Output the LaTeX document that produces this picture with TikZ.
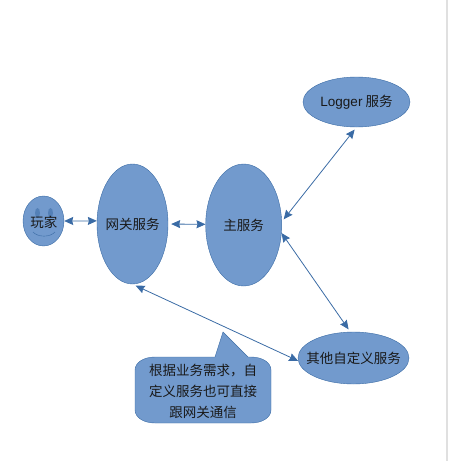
\documentclass[tikz,border=0pt]{standalone}
\usepackage{fontspec}
\setmainfont{Liberation Sans}
\newfontfamily\cjk{Noto Sans CJK SC}
\usetikzlibrary{shapes.geometric,arrows.meta}
\definecolor{svcfill}{HTML}{729ACD}
\definecolor{svcline}{HTML}{3A6BA5}
\tikzset{
    service/.style={ellipse, draw=svcline, fill=svcfill, inner sep=0pt},
    caption/.style={font=\fontsize{13.5}{21}\selectfont\cjk, text=black!90, align=center},
    link/.style={draw=svcline, line width=0.8pt, <->, >={Stealth[length=9pt,width=8pt,inset=1pt]}},
}
\begin{document}
\begin{tikzpicture}[x=1pt,y=-1pt]
    \useasboundingbox (0,0) rectangle (448,461);
    \fill[black!12] (446,0) rectangle (448,461);
    \node[service, minimum width=41pt, minimum height=50pt] (player) at (43.5,221) {};
    % face under the label
    \fill[svcline!55!svcfill] (37.5,213) ellipse (2.5 and 5);
    \fill[svcline!55!svcfill] (50.5,213) ellipse (2.5 and 5);
    \draw[svcline] (33,232) .. controls (38,237.5) and (50,237.5) .. (55,232);
    \node[caption] (playertext) at (44,222) {玩家};
    \node[service, minimum width=71pt, minimum height=120pt] (gateway) at (132.5,224) {};
    \node[caption] (gatewaytext) at (gateway) {网关服务};
    \node[service, minimum width=76pt, minimum height=122pt] (mainsvc) at (243.7,225) {};
    \node[caption] (maintext) at (mainsvc) {主服务};
    \node[service, minimum width=107pt, minimum height=50pt] (logger) at (356.5,102) {};
    \node[caption] (loggertext) at (logger) {{\fontspec{Liberation Sans}Logger} 服务};
    \node[service, minimum width=111pt, minimum height=52pt] (other) at (353.5,358) {};
    \node[caption] (othertext) at (other) {其他自定义服务};
    % speech bubble
    \draw[draw=svcline, fill=svcfill] (215,357) -- (223,332) -- (248,357) -- (251,357)
        .. controls (263,357) and (271,363) .. (271,370) -- (271,410)
        .. controls (271,417) and (263,423) .. (251,423) -- (155,423)
        .. controls (143,423) and (135,417) .. (135,410) -- (135,370)
        .. controls (135,363) and (143,357) .. (155,357) -- cycle;
    \node[caption] (note) at (203,391) {根据业务需求，自\\定义服务也可直接\\跟网关通信};
    \draw[link] (player.east) -- (gateway.175);
    \draw[link, shorten <=3pt] (gateway.east) -- (mainsvc.179);
    \draw[link, shorten <=3pt, shorten >=3pt] (logger.south) -- (mainsvc.5);
    \draw[link, shorten >=3pt] (mainsvc.-12) -- (other.97);
    \draw[link, shorten <=3.5pt] (gateway.south) -- (other.183);
\end{tikzpicture}
\end{document}
